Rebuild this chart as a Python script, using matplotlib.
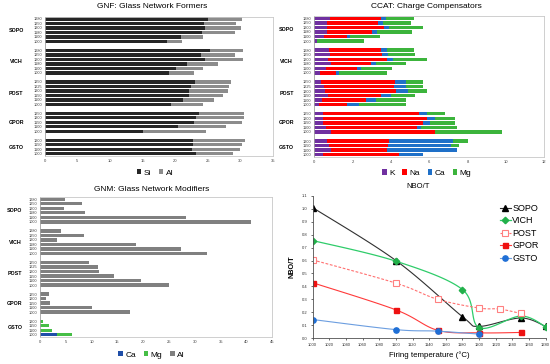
import numpy as np
import matplotlib
matplotlib.use('Agg')
import matplotlib.pyplot as plt
import matplotlib.transforms as mtransforms

plt.rcParams['font.family'] = ['Liberation Sans', 'DejaVu Sans']

# --- data -------------------------------------------------------------
group_names = ['SOPO', 'VICH', 'POST', 'GPOR', 'GSTO']
group_temps = [
    [1280, 1250, 1200, 1180, 1100, 1000],
    [1280, 1250, 1200, 1180, 1100, 1000],
    [1250, 1225, 1200, 1150, 1100, 1000],
    [1250, 1200, 1150, 1100, 1000],
    [1200, 1150, 1100, 1000],
]

# GNF (rows top to bottom, same order as group_temps)
gnf_si = [25.0, 24.4, 24.5, 24.1, 20.9, 18.7,
          25.3, 23.9, 24.6, 21.8, 20.2, 19.1,
          23.0, 22.5, 22.1, 22.1, 21.2, 19.4,
          23.7, 23.2, 22.9, 20.5, 15.0,
          22.8, 22.8, 22.6, 23.2]
gnf_al = [5.2, 5.0, 5.6, 5.1, 3.3, 2.3,
          5.1, 5.2, 5.8, 4.7, 4.0, 3.8,
          5.6, 5.7, 6.0, 5.2, 4.8, 4.8,
          6.8, 7.3, 7.4, 7.3, 9.7,
          7.9, 7.5, 7.4, 5.6]

# CCAT
ccat_k = [0.82, 0.64, 0.64, 0.66, 0.52, 0.16,
          0.78, 0.80, 0.73, 0.87, 0.59, 0.30,
          0.35, 0.49, 0.57, 0.71, 0.40, 0.23,
          0.43, 0.43, 0.47, 0.59, 0.85,
          0.68, 0.77, 0.85, 0.43]
ccat_na = [2.66, 2.66, 3.01, 2.35, 1.18, 0.0,
           2.70, 2.73, 3.06, 2.09, 1.64, 0.85,
           3.84, 3.68, 3.71, 2.77, 2.28, 1.47,
           5.05, 5.43, 5.20, 4.77, 5.43,
           3.22, 3.09, 2.94, 3.97]
ccat_ca = [0.26, 0.27, 0.25, 0.24, 0.14, 0.0,
           0.31, 0.31, 0.33, 0.26, 0.22, 0.12,
           0.59, 0.60, 0.59, 0.54, 0.54, 0.61,
           0.40, 0.42, 0.35, 0.19, 0.0,
           3.33, 3.27, 3.64, 1.29]
ccat_mg = [1.44, 1.46, 1.75, 1.83, 1.59, 2.43,
           1.39, 1.43, 1.74, 1.55, 1.60, 2.52,
           0.91, 0.90, 1.01, 1.23, 1.55, 2.46,
           0.95, 1.06, 1.32, 1.88, 3.51,
           0.77, 0.42, 0.03, 0.0]

# GNM
gnm_ca = [0, 0, 0, 0, 0, 0,
          0, 0, 0, 0, 0, 0,
          0, 0, 0, 0, 0, 0,
          0, 0, 0, 0, 0,
          0, 0, 0, 3.3]
gnm_mg = [0, 0, 0, 0, 0, 0,
          0, 0, 0, 0, 0, 0,
          0, 0, 0, 0, 0, 0,
          0, 0, 0, 0, 0,
          0.5, 1.75, 2.4, 2.9]
gnm_al = [4.9, 8.1, 4.7, 8.8, 28.3, 40.9,
          4.1, 8.5, 3.2, 18.5, 27.4, 32.3,
          9.4, 11.2, 11.35, 14.3, 19.5, 25.0,
          1.7, 1.2, 2.0, 10.1, 17.4,
          0, 0, 0, 0]

# NBO/T
sopo_t = [1000, 1100, 1180, 1200, 1250, 1280]
sopo_v = [1.01, 0.60, 0.165, 0.09, 0.155, 0.09]
vich_t = [1000, 1100, 1180, 1200, 1250, 1280]
vich_v = [0.755, 0.595, 0.375, 0.08, 0.17, 0.087]
post_t = [1000, 1100, 1150, 1200, 1225, 1250]
post_v = [0.605, 0.425, 0.30, 0.232, 0.224, 0.19]
gpor_t = [1000, 1100, 1150, 1200, 1250]
gpor_v = [0.428, 0.218, 0.06, 0.04, 0.043]
gsto_t = [1000, 1100, 1150, 1200]
gsto_v = [0.143, 0.065, 0.053, 0.03]

# --- layout helpers ---------------------------------------------------
W, H = 550, 364
fig = plt.figure(figsize=(5.5, 3.64), dpi=100)


def px_axes(left, top, right, bottom):
    return fig.add_axes([left / W, 1 - bottom / H, (right - left) / W, (bottom - top) / H])


def row_positions():
    pos, mids = [], []
    y = 0
    for temps in group_temps:
        start = y
        for _ in temps:
            pos.append(y)
            y += 1
        mids.append((start + y - 1) / 2)
        y += 1  # blank row between groups
    return np.array(pos), mids


def bar_panel(ax, series, colors, labels, xmax, xstep, group_x, leg_x, leg_y):
    pos, mids = row_positions()
    left = np.zeros(len(pos))
    for vals, color, label in zip(series, colors, labels):
        vals = np.array(vals, dtype=float)
        ax.barh(pos, vals, left=left, height=0.75, color=color, label=label)
        left += vals
    ax.set_ylim(30.5, -0.5)
    ax.set_xlim(0, xmax)
    ax.set_xticks(np.arange(0, xmax + 0.01, xstep))
    ax.tick_params(axis='x', labelsize=3, length=0, pad=2, colors='#404040')
    temps_flat = [str(t) for temps in group_temps for t in temps]
    ax.set_yticks(pos, labels=temps_flat)
    ax.tick_params(axis='y', labelsize=2.8, length=0, pad=2, colors='#404040')
    for s in ax.spines.values():
        s.set_color('#c8c8c8')
        s.set_linewidth(0.6)
    ax.spines['left'].set_color('#a0a0a0')
    trans = mtransforms.blended_transform_factory(ax.transAxes, ax.transData)
    for name, m in zip(group_names, mids):
        ax.text(group_x, m, name, transform=trans, ha='center', va='center',
                fontsize=3.8, fontweight='bold')
    ax.legend(loc='center', bbox_to_anchor=(leg_x, leg_y), ncol=len(labels), frameon=False,
              fontsize=6, handlelength=0.55, handleheight=0.55, handletextpad=0.3,
              columnspacing=0.9, borderpad=0)


# --- GNF --------------------------------------------------------------
ax1 = px_axes(44.7, 16.7, 273, 156)
bar_panel(ax1, [gnf_si, gnf_al], ['#262626', '#8c8c8c'], ['Si', 'Al'],
          35, 5, -0.125, 0.483, -0.122)
fig.text(152 / W, 1 - 7 / H, 'GNF: Glass Network Formers', ha='center', va='center', fontsize=6)

# --- CCAT -------------------------------------------------------------
ax2 = px_axes(314.3, 16, 544.3, 157)
bar_panel(ax2, [ccat_k, ccat_na, ccat_ca, ccat_mg],
          ['#7030a0', '#ff0000', '#1f70c8', '#3cb43c'], ['K', 'Na', 'Ca', 'Mg'],
          12, 2, -0.12, 0.49, -0.115)
fig.text(426 / W, 1 - 7 / H, 'CCAT: Charge Compensators', ha='center', va='center', fontsize=6)

# --- GNM --------------------------------------------------------------
ax3 = px_axes(40, 197, 272.3, 337)
bar_panel(ax3, [gnm_ca, gnm_mg, gnm_al], ['#1f4ea8', '#46be46', '#808080'], ['Ca', 'Mg', 'Al'],
          45, 5, -0.108, 0.48, -0.128)
fig.text(152 / W, 1 - 189 / H, 'GNM: Glass Network Modifiers', ha='center', va='center', fontsize=6)


# --- NBO/T ------------------------------------------------------------
def smooth(xs, ys, n=24):
    p = np.column_stack([xs, ys]).astype(float)
    out = [p[0]]
    t = np.linspace(0, 1, n)[1:, None]
    for i in range(len(p) - 1):
        prev = p[i - 1] if i > 0 else p[i]
        nxt = p[i + 2] if i + 2 < len(p) else p[i + 1]
        c1 = p[i] + (p[i + 1] - prev) / 6
        c2 = p[i + 1] - (nxt - p[i]) / 6
        seg = ((1 - t) ** 3) * p[i] + 3 * ((1 - t) ** 2) * t * c1 + 3 * (1 - t) * t ** 2 * c2 + t ** 3 * p[i + 1]
        out.extend(seg)
    out = np.array(out)
    return out[:, 0], out[:, 1]


ax4 = px_axes(312.7, 196, 545.7, 338)
series4 = [
    (sopo_t, sopo_v, 'SOPO', dict(color='#303030', lw=0.8), dict(marker='^', ms=4.5, mfc='black', mec='black')),
    (vich_t, vich_v, 'VICH', dict(color='#2fcc6a', lw=0.9), dict(marker='D', ms=3.3, mfc='#22b04a', mec='#22b04a')),
    (post_t, post_v, 'POST', dict(color='#ff7070', lw=0.8, ls=(0, (2.5, 1.5))), dict(marker='s', ms=4.2, mfc='white', mec='#ff8080', mew=0.8)),
    (gpor_t, gpor_v, 'GPOR', dict(color='#ff3a3a', lw=0.8), dict(marker='s', ms=3.6, mfc='#ee1111', mec='#ee1111')),
    (gsto_t, gsto_v, 'GSTO', dict(color='#6c9ee0', lw=0.8), dict(marker='o', ms=3.8, mfc='#1f6fd6', mec='#1f6fd6')),
]
for xs, ys, label, lstyle, mstyle in series4:
    sx, sy = smooth(xs, ys)
    ax4.plot(sx, sy, **lstyle)
    ax4.plot(xs, ys, ls='none', **mstyle)
    ax4.plot([], [], label=label, **lstyle, **mstyle)

ax4.set_xlim(1000, 1280)
ax4.set_ylim(0, 1.1)
ax4.set_xticks(np.arange(1000, 1281, 20))
ax4.set_yticks(np.arange(0, 1.11, 0.1))
ax4.yaxis.set_major_formatter(matplotlib.ticker.FormatStrFormatter('%.1f'))
ax4.tick_params(labelsize=3, length=1.5, width=0.5, pad=2, colors='#303030')
ax4.spines['top'].set_visible(False)
ax4.spines['right'].set_visible(False)
for s in ['left', 'bottom']:
    ax4.spines[s].set_color('#505050')
    ax4.spines[s].set_linewidth(0.6)
ax4.set_xlabel('Firing temperature (°C)', fontsize=5.7, labelpad=3)
ax4.set_ylabel('NBO/T', fontsize=5.2, fontweight='bold', labelpad=5)
ax4.legend(loc='upper left', bbox_to_anchor=((500 - 312.7) / 233, (338 - 204) / 142),
           frameon=False, fontsize=6.5, handlelength=1.2, handletextpad=0.15,
           labelspacing=0.38, borderpad=0, borderaxespad=0)
fig.text(418 / W, 1 - 186 / H, 'NBO/T', ha='center', va='center', fontsize=5.5)

fig.savefig('out.png', dpi=100)
